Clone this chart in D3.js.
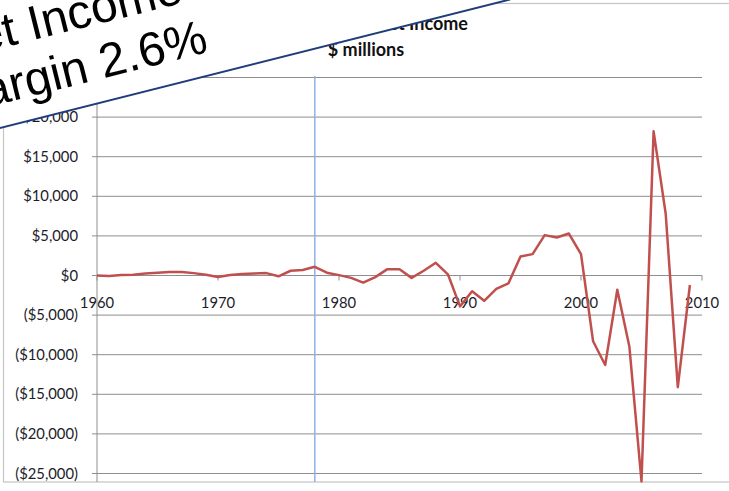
<!DOCTYPE html>
<html>
<head>
<meta charset="utf-8">
<script src="https://cdn.jsdelivr.net/npm/d3@7"></script>
<style>
  body { margin: 0; background: #fff; }
  svg { display: block; }
</style>
</head>
<body>
<svg id="chart" width="729" height="491"></svg>
<script>
// net income, $ millions
const years = d3.range(1960, 2010);
const netIncome = [
  0, -50, 50, 100, 250, 350, 450, 450, 300, 100,
  -200, 50, 200, 250, 300, -100, 600, 700, 1100, 350,
  50, -300, -900, -200, 800, 800, -300, 600, 1600, 150,
  -3900, -2000, -3200, -1700, -1000, 2400, 2700, 5100, 4800, 5300,
  2700, -8300, -11300, -1800, -9000, -26000, 18200, 7800, -14100, -1200
];
const yTicks = [25000, 20000, 15000, 10000, 5000, 0, -5000, -10000, -15000, -20000, -25000];
const xTicks = [1960, 1970, 1980, 1990, 2000, 2010];
const markerYear = 1978;
const titleLines = ["Net Income", "$ millions"];
const bannerLines = ["Net Income", "Margin 2.6%"];

const width = 729;
const height = 491;
const svg = d3.select("#chart");
const font = "Lato, 'Open Sans', sans-serif";

const x = d3.scaleLinear().domain([1960, 2010]).range([97, 702]);
const y = d3.scaleLinear().domain([-25000, 25000]).range([473.5, 77.5]);

// chart frame
svg.append("rect")
  .attr("x", 3.5).attr("y", 3.5)
  .attr("width", 740).attr("height", 478.5)
  .attr("fill", "none")
  .attr("stroke", "#c4c4c4")
  .attr("stroke-width", 1.2);

// gridlines + y labels
const fmt = (v) => {
  const s = "$" + d3.format(",")(Math.abs(v));
  return v < 0 ? "(" + s + ")" : s;
};
svg.append("g")
  .selectAll("line")
  .data(yTicks)
  .join("line")
  .attr("x1", 92).attr("x2", 702)
  .attr("y1", (d) => y(d)).attr("y2", (d) => y(d))
  .attr("stroke", "#8e8e8e")
  .attr("stroke-width", 1);

svg.append("g")
  .selectAll("text")
  .data(yTicks)
  .join("text")
  .attr("x", 78)
  .attr("y", (d) => y(d))
  .attr("dy", "0.35em")
  .attr("text-anchor", "end")
  .attr("font-family", font)
  .attr("font-size", 14.8)
  .attr("fill", "#1c1c2a")
  .text(fmt);

// y axis line
svg.append("line")
  .attr("x1", 97).attr("x2", 97)
  .attr("y1", y(25000)).attr("y2", 482)
  .attr("stroke", "#8e8e8e");

// x axis ticks + labels
svg.append("g")
  .selectAll("line")
  .data(xTicks)
  .join("line")
  .attr("x1", (d) => x(d)).attr("x2", (d) => x(d))
  .attr("y1", y(0)).attr("y2", y(0) + 5)
  .attr("stroke", "#8e8e8e");

svg.append("g")
  .selectAll("text")
  .data(xTicks)
  .join("text")
  .attr("x", (d) => x(d))
  .attr("y", 308)
  .attr("text-anchor", "middle")
  .attr("font-family", font)
  .attr("font-size", 14.8)
  .attr("fill", "#1c1c2a")
  .text((d) => d);

// deregulation marker
svg.append("line")
  .attr("x1", x(markerYear)).attr("x2", x(markerYear))
  .attr("y1", 76).attr("y2", 482)
  .attr("stroke", "#8db3e2")
  .attr("stroke-width", 1.5);

// the series
const line = d3.line()
  .x((d, i) => x(years[i]))
  .y((d) => y(d));
svg.append("path")
  .datum(netIncome)
  .attr("d", line)
  .attr("fill", "none")
  .attr("stroke", "#c0504d")
  .attr("stroke-width", 2.5)
  .attr("stroke-linejoin", "round");

// title
svg.append("text")
  .attr("x", 468).attr("y", 30)
  .attr("text-anchor", "end")
  .attr("font-family", font)
  .attr("font-weight", "bold")
  .attr("font-size", 18)
  .attr("fill", "#111")
  .text(titleLines[0]);
svg.append("text")
  .attr("x", 366).attr("y", 56)
  .attr("text-anchor", "middle")
  .attr("font-family", font)
  .attr("font-weight", "bold")
  .attr("font-size", 18)
  .attr("fill", "#111")
  .text(titleLines[1]);

// banner over the corner
svg.append("path")
  .attr("d", "M-5,-5 L520,-5 L508,0 L0,128 L-5,130 Z")
  .attr("fill", "#fff");
svg.append("line")
  .attr("x1", -2).attr("y1", 128.5)
  .attr("x2", 510).attr("y2", -0.5)
  .attr("stroke", "#1f3d7a")
  .attr("stroke-width", 2);

const banner = svg.append("g")
  .attr("transform", "translate(-52,117) rotate(-14)");
banner.selectAll("text")
  .data(bannerLines)
  .join("text")
  .attr("x", 135)
  .attr("y", (d, i) => (i - 1) * 54)
  .attr("text-anchor", "middle")
  .attr("font-family", "'Liberation Sans', Arial, sans-serif")
  .attr("font-size", 48)
  .attr("fill", "#000")
  .text((d) => d);
</script>
</body>
</html>
